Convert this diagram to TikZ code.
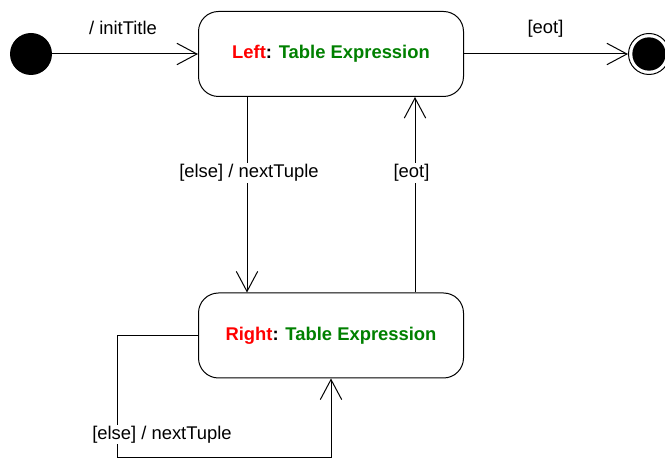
\documentclass[tikz,border=0pt]{standalone}
\usepackage{fontspec}
\setmainfont{Liberation Sans}
\usetikzlibrary{arrows.meta}
\definecolor{namered}{RGB}{255,0,0}
\definecolor{typegreen}{RGB}{0,128,0}
\begin{document}
\begin{tikzpicture}[x=0.75pt,y=-0.75pt,
  every node/.style={font=\fontsize{13.8}{16}\selectfont},
  statebox/.style={draw, line width=0.75pt, rounded corners=15pt,
    minimum width=198.75pt, minimum height=63.75pt, inner sep=0pt,
    font=\fontsize{13.8}{16}\selectfont\bfseries},
  trans/.style={line width=0.75pt, -{Straight Barb[length=15pt,width=16pt,line width=0.75pt]}},
  guard/.style={fill=white, inner sep=1pt}]
\useasboundingbox (0,0) rectangle (665,459);

% pseudo states
\node (init) [circle, fill=black, minimum size=31.5pt, inner sep=0pt] at (31,54) {};
\node (final) [circle, draw, line width=0.75pt, fill=white, minimum size=30.75pt, inner sep=0pt] at (649,54) {};
\fill (final.center) circle (12.5pt);

% states
\node (left) [statebox] at (331,54)
  {\textcolor{namered}{Left}: \textcolor{typegreen}{Table Expression}};
\node (right) [statebox] at (331,335.5)
  {\textcolor{namered}{Right}: \textcolor{typegreen}{Table Expression}};

% helper coordinates for the vertical transitions
\coordinate (xdown) at (247,0);
\coordinate (xup) at (415,0);
\coordinate (xloop) at (331,0);
\coordinate (loopcorner) at (117,458);

% transitions
\draw[trans] (init) -- (left);
\draw[trans] (left) -- (final);
\draw[trans] (left.south -| xdown) -- (right.north -| xdown);
\draw[trans] (right.north -| xup) -- (left.south -| xup);
\draw[trans] (right.west) -| (loopcorner) -| (right.south -| xloop);

% transition labels
\node (lblinit) at (123,28) {/ initTitle};
\node (lbleot) at (545.5,29) {[eot]};
\node (lblnext) [guard] at (249,173) {[else] / nextTuple};
\node (lbleotup) [guard] at (411.5,173) {[eot]};
\node (lblloop) [guard] at (162,434.5) {[else] / nextTuple};
\end{tikzpicture}
\end{document}
